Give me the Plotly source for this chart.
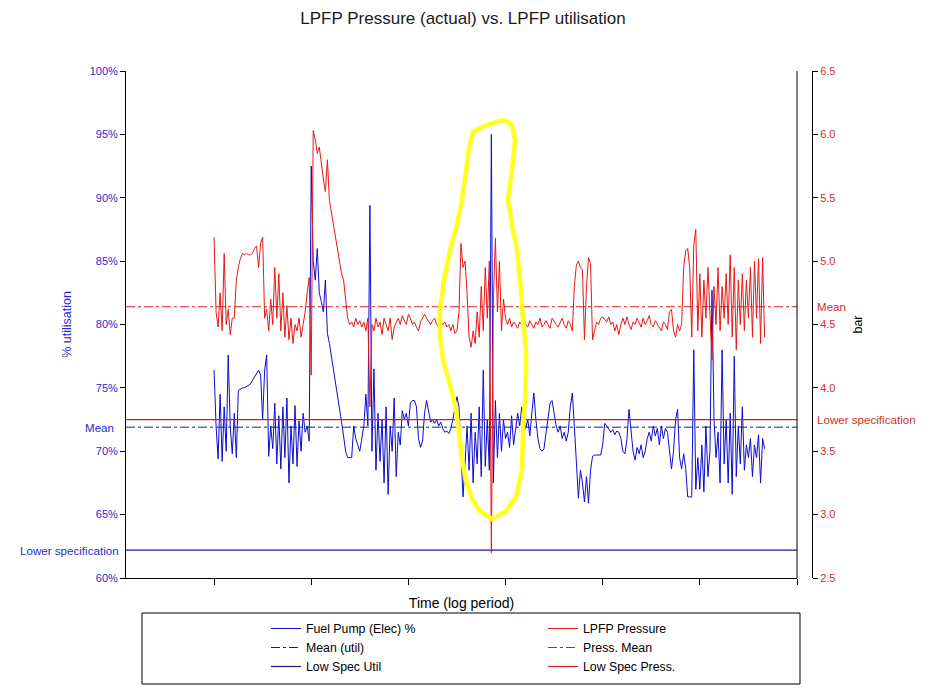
import plotly.graph_objects as go

# ---------------- data ----------------
# sample index (log period), one sample per step
util = [
    76.4, 72.0, 69.4, 74.5, 69.2,
    73.5, 70.0, 77.6, 72.0, 69.8,
    73.0, 69.5, 74.8, 74.9, 75.0,
    75.0, 75.1, 75.2, 75.3, 75.6,
    75.9, 76.2, 76.4, 76.0, 72.5,
    76.4, 77.6, 69.6, 72.0, 70.2,
    73.8, 69.0, 72.8, 68.6, 73.5,
    69.5, 74.2, 67.5, 72.0, 69.0,
    73.6, 68.8, 72.4, 70.0, 73.0,
    71.5, 72.0, 70.8, 92.5, 85.0,
    83.5, 86.0, 82.5, 81.8, 81.0,
    83.5, 79.3, 78.5, 77.5, 76.4,
    75.5, 74.6, 73.5, 72.3, 71.2,
    70.0, 69.5, 69.5, 69.5, 72.0,
    71.0, 70.5, 70.0, 71.0, 72.0,
    74.5, 72.0, 89.4, 70.0, 76.5,
    68.5, 73.0, 69.2, 72.5, 67.5,
    73.5, 66.6, 72.0, 70.0, 74.2,
    68.0, 71.5, 70.5, 73.2, 72.5,
    73.0, 72.0, 73.8, 74.0, 74.0,
    73.5, 71.0, 70.3, 70.8, 73.0,
    74.0, 73.0, 72.3, 72.5, 72.2,
    72.5, 72.0, 72.3, 71.8, 71.5,
    71.6, 71.4, 71.8, 72.5, 73.5,
    74.3, 73.5, 70.0, 66.4, 69.0,
    72.0, 68.5, 73.0, 67.5, 71.5,
    69.0, 73.5, 68.0, 76.4, 68.8,
    72.5, 68.5, 95.0, 67.5, 74.0,
    69.5, 73.0, 70.0, 72.5, 71.0,
    71.5, 70.3, 72.8, 70.5, 72.0,
    73.0, 72.0, 73.5, 72.5, 71.8,
    72.5, 71.2, 73.0, 74.6, 72.5,
    71.0, 70.2, 70.0, 70.2, 71.5,
    72.5, 73.8, 74.0, 73.0, 72.0,
    71.5, 72.0, 71.0, 71.5, 70.8,
    71.5, 73.5, 74.6, 72.0, 68.5,
    66.3, 68.5, 67.5, 66.0, 68.0,
    65.9, 68.5, 69.6, 69.7, 69.7,
    69.7, 69.7, 70.5, 72.2, 72.0,
    71.7, 71.5, 71.7, 71.3, 71.6,
    71.5, 71.0, 70.0, 69.8, 71.0,
    73.3, 71.5, 70.0, 69.3, 70.3,
    69.8, 70.5, 69.5, 70.0, 71.0,
    71.5, 70.8, 72.0, 71.2, 71.8,
    70.5, 72.0, 71.0, 71.8, 71.5,
    69.8, 68.6, 70.0, 72.5, 73.3,
    69.5, 68.6, 69.8, 68.7, 66.4,
    66.4, 66.4, 78.0, 67.0, 69.5,
    67.0, 70.5, 66.8, 72.0, 68.0,
    70.0, 82.7, 72.5, 69.5, 71.5,
    67.5, 78.0, 69.0, 72.5, 67.5,
    73.0, 66.6, 77.5, 68.0, 72.0,
    69.0, 73.5, 68.5, 70.5, 69.5,
    71.0, 68.0, 70.5, 69.5, 71.3,
    67.5, 71.0, 70.2,
]

pressure = [
    5.19, 4.60, 4.48, 4.75, 4.45,
    5.06, 4.50, 4.62, 4.42, 4.55,
    4.55, 4.85, 4.95, 5.02, 5.06,
    5.05, 5.06, 5.05, 5.05, 5.06,
    5.10, 5.12, 4.95, 5.14, 5.19,
    4.55, 4.62, 4.45, 4.70, 4.50,
    4.95, 4.55, 4.90, 4.45, 4.75,
    4.40, 4.65, 4.38, 4.55, 4.35,
    4.50, 4.45, 4.55, 4.40, 4.50,
    4.60, 4.75, 4.87, 4.10, 6.03,
    5.96, 5.85, 5.90, 5.75, 5.65,
    5.55, 5.80, 5.48, 5.38, 5.28,
    5.20, 5.08, 4.98, 4.90, 4.85,
    4.67, 4.55, 4.50, 4.52, 4.48,
    4.55, 4.50, 4.53, 4.48, 4.52,
    4.45, 4.55, 3.85, 4.50, 4.45,
    4.55, 4.48, 4.52, 4.42, 4.55,
    4.50, 4.45, 4.55, 4.38, 4.48,
    4.52, 4.55, 4.50, 4.57, 4.53,
    4.50, 4.58, 4.55, 4.50, 4.52,
    4.48, 4.45, 4.52, 4.55, 4.58,
    4.55, 4.52, 4.50, 4.53, 4.55,
    4.50, 4.48, 4.53, 4.50, 4.52,
    4.48, 4.50, 4.45, 4.50, 4.43,
    4.45, 4.60, 5.14, 4.95, 5.00,
    4.75, 4.40, 4.32, 4.45, 4.35,
    4.60, 4.40, 4.80, 4.45, 4.95,
    4.55, 5.00, 2.70, 4.70, 5.18,
    4.60, 5.00, 4.45, 4.70, 4.55,
    4.50, 4.55, 4.48, 4.52, 4.50,
    4.47, 4.52, 4.50, 4.55, 4.50,
    4.48, 4.53, 4.50, 4.47, 4.52,
    4.50, 4.55, 4.48, 4.50, 4.53,
    4.50, 4.47, 4.55, 4.52, 4.50,
    4.48, 4.52, 4.55, 4.50, 4.47,
    4.53, 4.50, 4.45, 4.80, 4.97,
    5.00, 4.95, 4.93, 4.38, 4.80,
    5.03, 4.98, 4.38, 4.45, 4.52,
    4.50, 4.55, 4.56, 4.54, 4.52,
    4.56, 4.50, 4.52, 4.45, 4.50,
    4.42, 4.50, 4.55, 4.50, 4.56,
    4.50, 4.46, 4.52, 4.50, 4.55,
    4.52, 4.48, 4.55, 4.50, 4.53,
    4.57, 4.50, 4.48, 4.53, 4.50,
    4.48, 4.45, 4.52, 4.50, 4.46,
    4.60, 4.62, 4.45, 4.40, 4.50,
    4.45, 4.50, 4.95, 5.08, 5.10,
    4.95, 4.40, 5.12, 5.25, 4.45,
    4.90, 4.40, 4.85, 4.55, 4.95,
    4.60, 4.22, 4.80, 4.50, 4.95,
    4.45, 4.80, 4.55, 4.90, 4.50,
    5.05, 4.40, 4.95, 4.30, 4.85,
    4.50, 4.90, 4.45, 4.85, 4.55,
    4.95, 4.40, 5.00, 4.55, 5.02,
    4.35, 5.03, 4.40,
]

util_mean = 71.9
util_low_spec = 62.2
press_mean = 4.64
press_low_spec = 3.75

util_ticks = [60, 65, 70, 75, 80, 85, 90, 95, 100]
util_tick_labels = [f"{v}%" for v in util_ticks]
press_ticks = [2.5, 3.0, 3.5, 4.0, 4.5, 5.0, 5.5, 6.0, 6.5]
press_tick_labels = [f"{v:.1f}" for v in press_ticks]
period_ticks = [0, 48, 96, 144, 192, 240, 288]
x_range = [-43.5, 288]

# ---------------- geometry helpers (layout only) ----------------
OFF = 8                       # page body margin of the html page
W, H = 931 - OFF, 689 - OFF   # figure size
ML = 126 - OFF                # plot left (screen 126)
MT = 71 - OFF                 # plot top (screen 71)
MB = H - (578 - OFF)          # plot bottom (screen 578)
MR = W - (812 - OFF)          # paper right (screen 812, secondary axis)
PW = W - ML - MR
PH = H - MT - MB
plot_right_px = 797           # screen x of the plot-area right border


def px(xs):
    return (xs - OFF - ML) / PW


def py(ys):
    return (H - MB - (ys - OFF)) / PH


samples = list(range(len(util)))

BLUE = "#0C0CD0"
NAVY = "#1A1A8C"
RED = "#E81818"
DRED = "#CC2020"
LBLUE = "#2A2AD2"
LRED = "#D82C2C"
FONT = "Liberation Sans, Arial, sans-serif"

fig = go.Figure()

fig.add_trace(go.Scatter(x=samples, y=util, mode="lines", name="Fuel Pump (Elec) %",
                         line=dict(color=BLUE, width=1), yaxis="y"))
fig.add_trace(go.Scatter(x=samples, y=pressure, mode="lines", name="LPFP Pressure",
                         line=dict(color=RED, width=1), yaxis="y2"))
fig.add_trace(go.Scatter(x=x_range, y=[util_mean] * 2, mode="lines", name="Mean (util)",
                         line=dict(color=NAVY, width=1, dash="dashdot"), yaxis="y"))
fig.add_trace(go.Scatter(x=x_range, y=[press_mean] * 2, mode="lines", name="Press. Mean",
                         line=dict(color=DRED, width=1, dash="dashdot"), yaxis="y2"))
fig.add_trace(go.Scatter(x=x_range, y=[util_low_spec] * 2, mode="lines", name="Low Spec Util",
                         line=dict(color=NAVY, width=1.2), yaxis="y"))
fig.add_trace(go.Scatter(x=x_range, y=[press_low_spec] * 2, mode="lines", name="Low Spec Press.",
                         line=dict(color=DRED, width=1.2), yaxis="y2"))

# yellow hand-drawn highlight loop (screen pixel outline)
loop_px = [(505, 120), (512, 125), (515, 140), (512, 170), (508, 200), (513, 230), (517, 250),
           (521, 290), (523, 320), (526, 350), (526, 370), (525, 400), (523, 430), (522, 470),
           (516, 497), (505, 512), (492, 519), (480, 511), (472, 499), (466, 480), (462, 460),
           (459, 432), (456, 408), (450, 385), (443, 360), (440, 335), (440, 310), (444, 280),
           (450, 250), (457, 225), (462, 200), (466, 172), (469, 148), (473, 132), (484, 126),
           (496, 122), (505, 120)]
path = "M " + " L ".join(f"{px(a):.4f},{py(b):.4f}" for a, b in loop_px)

shapes = [
    dict(type="path", xref="paper", yref="paper", path=path,
         line=dict(color="#FFFF22", width=4.5), layer="above"),
    # right border of the plot area
    dict(type="line", xref="paper", yref="paper", x0=px(plot_right_px), x1=px(plot_right_px),
         y0=0, y1=1, line=dict(color="black", width=1)),
    # legend frame
    dict(type="rect", xref="paper", yref="paper", x0=px(142), x1=px(800), y0=py(613), y1=py(684),
         line=dict(color="black", width=1), fillcolor="rgba(0,0,0,0)"),
]

annotations = [
    dict(text="Mean", xref="paper", yref="y", x=px(116), y=util_mean, xanchor="right",
         yanchor="middle", showarrow=False, font=dict(color=LBLUE, size=11.6, family=FONT)),
    dict(text="Lower specification", xref="paper", yref="y", x=px(121), y=util_low_spec,
         xanchor="right", yanchor="middle", showarrow=False,
         font=dict(color=LBLUE, size=11.6, family=FONT)),
    dict(text="Mean", xref="paper", yref="y2", x=px(815), y=press_mean, xanchor="left",
         yanchor="middle", showarrow=False, font=dict(color=LRED, size=11.6, family=FONT)),
    dict(text="Lower specification", xref="paper", yref="y2", x=px(815), y=press_low_spec,
         xanchor="left", yanchor="middle", showarrow=False,
         font=dict(color=LRED, size=11.6, family=FONT)),
]

fig.update_layout(
    width=W, height=H,
    margin=dict(l=ML, r=MR, t=MT, b=MB, autoexpand=False),
    paper_bgcolor="white", plot_bgcolor="white",
    font=dict(family=FONT, size=12, color="black"),
    title=dict(text="LPFP Pressure (actual) vs. LPFP utilisation",
               x=(463 - OFF) / W, xanchor="center",
               y=1 - (18 - OFF) / H, yanchor="middle",
               font=dict(size=17, color="#1a1a1a", family=FONT)),
    showlegend=True,
    legend=dict(orientation="h", x=px(266), xanchor="left", y=py(614), yanchor="top",
                entrywidth=232, font=dict(size=12.3, color="black", family=FONT),
                bgcolor="rgba(0,0,0,0)", tracegroupgap=0, itemwidth=30),
    xaxis=dict(domain=[0, px(plot_right_px)], range=x_range, tickvals=period_ticks,
               showticklabels=False, ticks="outside", ticklen=6, tickcolor="black",
               showline=True, linecolor="black", linewidth=1, showgrid=False, zeroline=False,
               title=dict(text="Time (log period)", standoff=14,
                          font=dict(size=14, color="black", family=FONT))),
    yaxis=dict(range=[60, 100], tickmode="array", tickvals=util_ticks, ticktext=util_tick_labels,
               ticks="outside", ticklen=5, tickcolor="black", showline=True, linecolor="black",
               linewidth=1, showgrid=False, zeroline=False,
               tickfont=dict(color=LBLUE, size=11, family=FONT),
               title=dict(text="% utilisation", standoff=15,
                          font=dict(color=LBLUE, size=12.5, family=FONT))),
    yaxis2=dict(range=[2.5, 6.5], tickmode="array", tickvals=press_ticks,
                ticktext=press_tick_labels, overlaying="y",
                side="right", anchor="free", position=1.0, ticks="outside", ticklen=5,
                tickcolor="black", showline=True, linecolor="black", linewidth=1,
                showgrid=False, zeroline=False,
                tickfont=dict(color=LRED, size=11, family=FONT),
                title=dict(text="bar", standoff=18,
                           font=dict(color="black", size=12.5, family=FONT))),
    shapes=shapes,
    annotations=annotations,
)

fig.write_html("out.html")
